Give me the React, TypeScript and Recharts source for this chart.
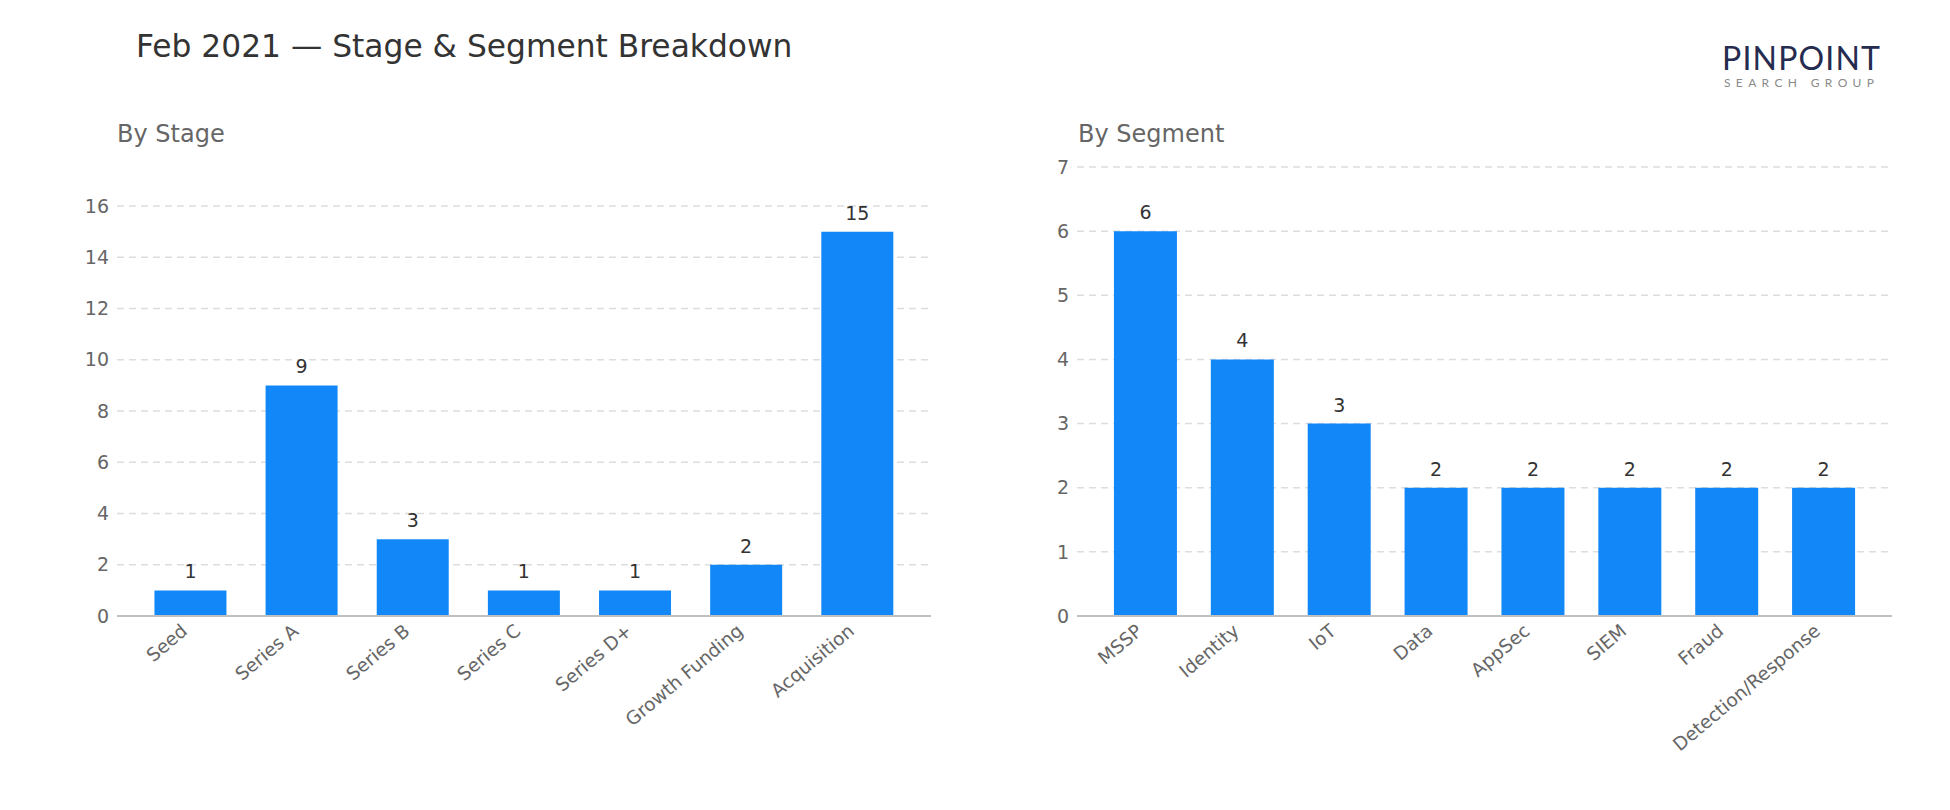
import React from 'react';
import { BarChart, Bar, XAxis, YAxis, CartesianGrid, LabelList } from 'recharts';

const stageNames = ['Seed', 'Series A', 'Series B', 'Series C', 'Series D+', 'Growth Funding', 'Acquisition'];
const stageCounts = [1, 9, 3, 1, 1, 2, 15];
const stageTicks = [0, 2, 4, 6, 8, 10, 12, 14, 16];

const segmentNames = ['MSSP', 'Identity', 'IoT', 'Data', 'AppSec', 'SIEM', 'Fraud', 'Detection/Response'];
const segmentCounts = [6, 4, 3, 2, 2, 2, 2, 2];
const segmentTicks = [0, 1, 2, 3, 4, 5, 6, 7];

const FONT = '"DejaVu Sans", sans-serif';
const BAR = '#1288f8';

const stageData = stageNames.map((name, i) => ({ name, count: stageCounts[i] }));
const segmentData = segmentNames.map((name, i) => ({ name, count: segmentCounts[i] }));

// rotated category label, right end sits just under the tick
const SlantTick = (props: any) => {
  const { x, y, payload } = props;
  return (
    <g transform={`translate(${x - 2},${y + 17})`}>
      <text x={0} y={0} transform="rotate(-40)" textAnchor="end" fill="#666" fontSize={18.5} fontFamily={FONT}>
        {payload.value}
      </text>
    </g>
  );
};

const Panel = ({ ticks, max, pad }: { ticks: number[]; max: number; pad: number }) => (
  <>
    <CartesianGrid vertical={false} stroke="#dddddd" strokeDasharray="7 5" strokeWidth={1.5} />
    <XAxis
      dataKey="name"
      interval={0}
      tickLine={false}
      tickSize={0}
      tickMargin={0}
      axisLine={{ stroke: '#c0c0c0', strokeWidth: 2 }}
      padding={{ left: pad, right: pad }}
      tick={<SlantTick />}
      height={150}
    />
    <YAxis
      domain={[0, max]}
      ticks={ticks}
      interval={0}
      axisLine={false}
      tickLine={false}
      tickSize={0}
      tickMargin={8}
      width={60}
      tick={{ fill: '#666', fontSize: 19, fontFamily: FONT }}
    />
    <Bar dataKey="count" fill={BAR} isAnimationActive={false}>
      <LabelList dataKey="count" position="top" offset={12} fill="#333" fontSize={19} fontFamily={FONT} />
    </Bar>
  </>
);

export default function App() {
  return (
    <div style={{ position: 'absolute', left: 0, top: 0, width: 1950, height: 810, background: '#fff', fontFamily: FONT }}>
      <div style={{ position: 'absolute', left: 136, top: 28, fontSize: 31.3, color: '#333', whiteSpace: 'nowrap' }}>
        Feb 2021 — Stage &amp; Segment Breakdown
      </div>
      <div style={{ position: 'absolute', left: 117, top: 120, fontSize: 24, color: '#666' }}>By Stage</div>
      <div style={{ position: 'absolute', left: 1078, top: 120, fontSize: 24, color: '#666' }}>By Segment</div>

      <svg style={{ position: 'absolute', left: 1710, top: 30 }} width={190} height={70}>
        <text x={12} y={40} textLength={158} lengthAdjust="spacing" fontSize={32} fontFamily="Lato, sans-serif" fontWeight={400} fill="#262b50">
          PINPOINT
        </text>
        <text x={14} y={57} textLength={150} lengthAdjust="spacing" fontSize={12} fontFamily="Lato, sans-serif" fill="#8a8a8a">
          SEARCH GROUP
        </text>
      </svg>

      <div style={{ position: 'absolute', left: 0, top: 150 }}>
        <BarChart width={960} height={660} data={stageData} barCategoryGap="17.5%" margin={{ top: 56, right: 29, bottom: 44, left: 57 }}>
          {Panel({ ticks: stageTicks, max: 16, pad: 18 })}
        </BarChart>
      </div>

      <div style={{ position: 'absolute', left: 960, top: 150 }}>
        <BarChart width={990} height={660} data={segmentData} barCategoryGap="17.5%" margin={{ top: 17, right: 58, bottom: 44, left: 57 }}>
          {Panel({ ticks: segmentTicks, max: 7, pad: 20 })}
        </BarChart>
      </div>
    </div>
  );
}
